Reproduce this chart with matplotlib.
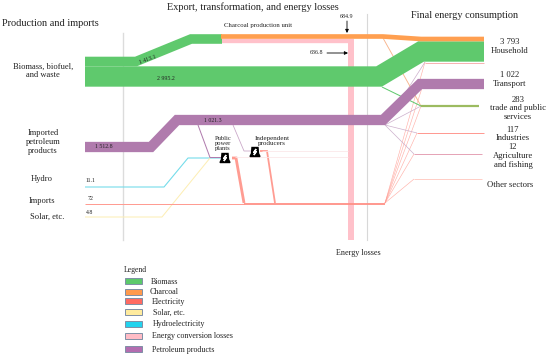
"""
Energy flow diagram: production and imports to final consumption.
Drawn as thick mitred lines on a pixel-sized canvas, widths follow the flow values.
"""

import matplotlib

matplotlib.use("Agg")
import matplotlib.pyplot as plt
from matplotlib.patches import Polygon, Rectangle

# flow values
biomass_upper = 1413.1
biomass_lower = 2995.2
charcoal = 684.9
conversion_losses = 636.8
petroleum = 1512.8

column_titles = ["Production and imports", "Export, transformation, and energy losses", "Final energy consumption"]
source_labels = ["Biomass, biofuel,\nand waste", "Imported\npetroleum\nproducts", "Hydro", "Imports", "Solar, etc."]
sink_labels = ["3 793\nHousehold", "1 022\nTransport", "283\ntrade and public\nservices", "117\nIndustries",
               "12\nAgriculture\nand fishing", "Other sectors"]
legend_labels = ["Biomass", "Charcoal", "Electricity", "Solar, etc.", "Hydroelectricity",
                 "Energy conversion losses", "Petroleum products"]

GREEN = "#5fc96d"
ORANGE = "#ff9f50"
RED = "#ff9c92"
YELLOW = "#fdeeb4"
CYAN = "#74dcea"
PINK = "#ffc1ca"
PURPLE = "#b07bad"
LEGEND_COLORS = ["#5cc96a", "#ff9a4d", "#ff6b62", "#ffeb9e", "#22d3ee", "#ffbcc6", "#b36db0"]

PX_PER_UNIT = 0.0068
PX = 0.72  # line width in points for one pixel
FONT = ["Liberation Serif", "DejaVu Serif"]
TEXT = "#222222"

fig = plt.figure(figsize=(5.5, 3.57), dpi=100)
ax = fig.add_axes([0, 0, 1, 1])
ax.set_xlim(0, 550)
ax.set_ylim(357, 0)
ax.axis("off")


def route(points, width, color, z=2, alpha=1.0):
    xs = [p[0] for p in points]
    ys = [p[1] for p in points]
    ax.plot(xs, ys, color=color, lw=width * PX, solid_joinstyle="miter", solid_capstyle="butt",
            zorder=z, alpha=alpha)


def flow(points, value, color, z=3):
    route(points, value * PX_PER_UNIT, color, z)


def label(x, y, s, size=6.4, ha="center", rotation=0, linespacing=1.0):
    ax.text(x, y, s, fontsize=size, ha=ha, va="center", family=FONT, color=TEXT, rotation=rotation,
            linespacing=linespacing, rotation_mode="anchor", zorder=6)


def plant_icon(x, y):
    ax.add_patch(Polygon([(x - 5, y + 4.5), (x - 3.5, y + 1.5), (x - 3, y - 4.5), (x + 3, y - 4.5),
                          (x + 3.5, y + 1.5), (x + 5, y + 4.5)], closed=True, color="black", zorder=5))
    ax.add_patch(Polygon([(x + 1, y - 3), (x - 1.5, y + 0.5), (x, y + 0.5), (x - 1, y + 3), (x + 1.5, y - 0.5),
                          (x, y - 0.5)], closed=True, color="white", zorder=6))


# grey column separators
ax.plot([123, 123], [33, 240], color="#dcdcdc", lw=1.0, zorder=1)
ax.plot([367, 367], [14, 240], color="#d8d8d8", lw=0.8, zorder=1)

# fan out of electricity and petroleum to the sectors
for end in [(425, 62), (422, 88), (421, 106), (417, 133), (414, 154), (414, 179)]:
    route([(385, 203), end], 0.6, RED, z=2, alpha=0.8)
for end in [(425, 62), (421, 106), (417, 133), (414, 154)]:
    route([(385, 125), end], 0.7, "#cdb0cc", z=2)
route([(383, 38), (421, 106)], 0.9, "#f8b48c", z=2)
route([(382, 87), (421, 106)], 1.0, GREEN, z=2)

# sector ends
route([(421, 106), (479, 106)], 2.2, "#9cbb60", z=3)
route([(417, 133), (484, 133)], 0.9, "#ff8f86", z=3)
route([(414, 154), (482, 154)], 0.9, "#e39ab0", z=3)
route([(414, 179), (482, 179)], 0.8, "#ffc2b8", z=3)
route([(425, 62.5), (484, 62.5)], 0.8, "#f5a0a0", z=2)

# main ribbons
flow([(221, 41.2), (351, 41.2)], conversion_losses, PINK, z=2)
route([(351, 39), (351, 240)], 6, PINK, z=2)
flow([(85, 61.5), (136, 61.5), (191, 39), (222, 39)], biomass_upper, GREEN)
flow([(85, 76.5), (379, 76.5), (421, 51.5), (484, 51.5)], biomass_lower, GREEN)
flow([(221, 36.5), (383, 36.5), (421, 39), (484, 39)], charcoal, ORANGE, z=4)
flow([(85, 147), (151, 147), (177, 120), (383, 120), (420, 84), (484, 84)], petroleum, PURPLE, z=4)

# small sources and power plants
route([(85, 187), (164, 187), (188, 158), (222, 158)], 1.1, CYAN)
route([(85, 217), (162, 217), (210, 158)], 1.0, YELLOW)
route([(85, 203.5), (244, 203.5)], 1.0, RED)
route([(198, 125), (210, 157.5), (224, 157.5)], 1.0, PURPLE)
route([(233, 125), (244, 151), (255, 151)], 0.8, "#c9a6c7")
route([(232, 158), (236, 158), (244, 203)], 2.8, RED)
route([(260, 151), (267, 151), (275, 203)], 1.8, RED)
route([(244, 203.5), (385, 203.5)], 1.8, "#ff8f85", z=3)
route([(235, 157), (348, 157)], 0.8, "#fbe6e8")
route([(262, 151), (348, 151)], 0.8, "#fbe6e8")
plant_icon(225, 158)
plant_icon(255, 152)

# arrows
for start, end in [((347, 21), (347, 33)), ((327, 53), (348, 53))]:
    ax.annotate("", xy=end, xytext=start, zorder=6,
                arrowprops=dict(arrowstyle="-|>", color="black", lw=0.6, mutation_scale=5, shrinkA=0, shrinkB=0))

# column titles
label(50.5, 24, column_titles[0], size=7.4)
label(253, 7, column_titles[1], size=7.4)
label(465, 16, column_titles[2], size=7.4)

# source labels
for (x, y), s in zip([(43, 71), (43, 142), (42, 179), (42, 201), (47, 217)], source_labels):
    label(x, y, s, size=6.1, linespacing=1.15)

# sink labels
for (x, y), s in zip([(510, 46.5), (510, 79.5), (518, 108.5), (513, 134), (513, 156), (510, 185)], sink_labels):
    label(x, y, s, size=6.2, linespacing=1.15)

# small value labels
label(258, 26, "Charcoal production unit", size=4.9)
label(347, 16, f"{charcoal}", size=4.3)
label(316, 53, f"{conversion_losses}", size=4.3)
label(148, 60, "1 413.1", size=4.2, rotation=20)
label(166, 79, "2 995.2", size=4.2)
label(213, 121, "1 021.3", size=4.2)
label(104, 146, "1 512.8", size=4.2)
label(90, 181, "11.1", size=4.2)
label(91, 199, "72", size=4.2)
label(90, 212, "4.8", size=4.2)
label(223, 143.5, "Public\npower\nplants", size=4.7, linespacing=1.1)
label(272, 141, "Independent\nproducers", size=5.1, linespacing=1.15)
label(358, 253, "Energy losses", size=5.9)

# legend
label(124, 270, "Legend", size=5.6, ha="left")
legend_y = [281, 292, 301, 312, 324, 336, 349]
legend_x = [151, 150, 152, 153, 153, 152, 152]
for color, s, x, y in zip(LEGEND_COLORS, legend_labels, legend_x, legend_y):
    ax.add_patch(Rectangle((125, y - 3), 17, 6, facecolor=color, edgecolor="#7f8fa6", lw=0.7, zorder=3))
    label(x, y + 0.5, s, size=5.8, ha="left")

fig.savefig("out.png", dpi=100)
